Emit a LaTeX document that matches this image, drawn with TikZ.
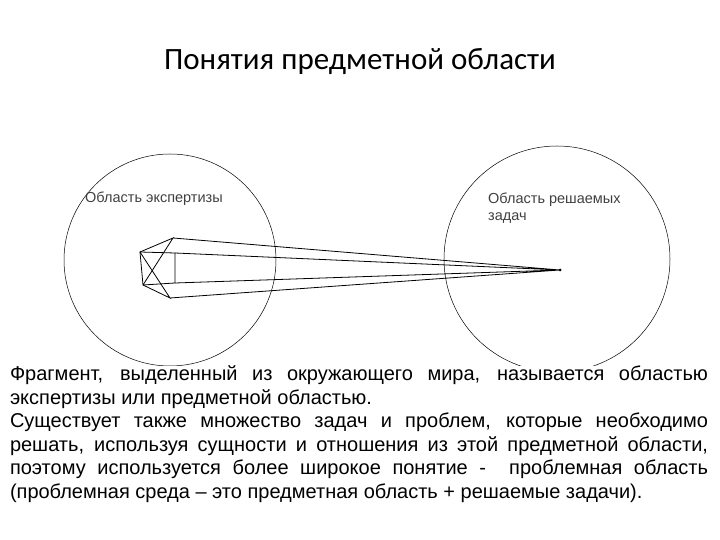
\documentclass[tikz,border=0pt]{standalone}
\usepackage{fontspec}
\setmainfont{Liberation Sans}
\newfontfamily\titlefont{Carlito}
\begin{document}
\begin{tikzpicture}[x=1pt,y=1pt,
  ln/.style={line width=0.8pt},
  lbl/.style={font=\fontsize{14.5}{17}\selectfont, text=black!75, anchor=west, inner sep=0pt, align=left}]
\useasboundingbox (0,0) rectangle (720,540);
\node (title) at (360,478) {\titlefont\fontsize{31}{36}\selectfont Понятия предметной области};
\node[draw, circle, minimum size=212pt, inner sep=0pt, line width=0.5pt] (c1) at (170,280) {};
\node[draw, circle, minimum size=226pt, inner sep=0pt, line width=0.5pt] (c2) at (557,281) {};
\node[lbl] (l1) at (85,341) {Область экспертизы};
\node[lbl] (l2) at (488,332) {Область решаемых\\задач};
\coordinate (ta) at (173,302);
\coordinate (ba) at (170,242);
\coordinate (ul) at (140,288);
\coordinate (ll) at (143,255);
\coordinate (ur) at (175,287);
\coordinate (lr) at (175,257);
\coordinate (p) at (560,270);
\draw[ln] (ul) -- (ur) -- (lr) -- (ll) -- cycle;
\draw[ln] (ul) -- (ta) -- (ll);
\draw[ln] (ul) -- (ba) -- (ll);
\draw[ln] (ta) -- (p) (ba) -- (p) (ur) -- (p) (lr) -- (p);
\fill (p) circle (1.5pt);
\node[anchor=north west, inner sep=0pt, outer sep=0pt, fill=white, text width=698pt, align=justify] (body) at (10,174)
{\fontsize{20}{23.5}\selectfont
Фрагмент, выделенный из окружающего мира, называется областью \linebreak экспертизы или предметной областью.\newline
Существует также множество задач и проблем, которые необходимо \linebreak решать, используя сущности и отношения из этой предметной области, \linebreak поэтому используется более широкое понятие -\ \ проблемная область \linebreak (проблемная среда – это предметная область + решаемые задачи).\par};
\end{tikzpicture}
\end{document}
